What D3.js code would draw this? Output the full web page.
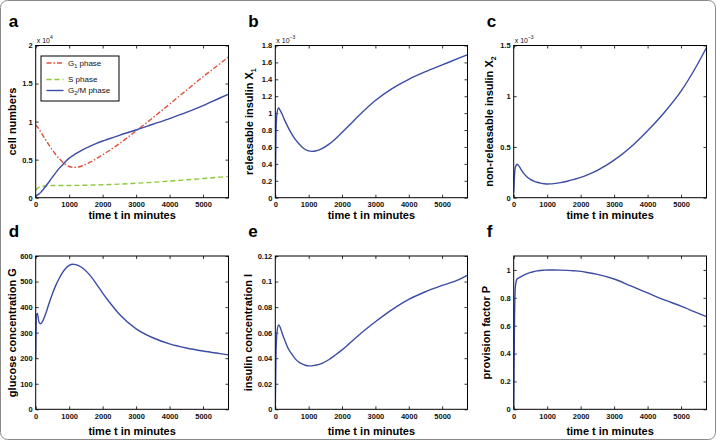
<!DOCTYPE html>
<html><head><meta charset="utf-8">
<script src="https://cdn.jsdelivr.net/npm/d3@7"></script>
<style>body{margin:0;background:#fff}svg{display:block}text{font-family:"Liberation Sans",Arial,sans-serif}</style>
</head><body>
<svg id="c" width="716" height="440"></svg>
<script>
const timePoints = [0,20,50,100,150,200,300,400,500,600,700,800,900,1000,1100,1200,1400,1600,1800,2000,2200,2500,3000,3500,4000,4500,5000,5500,5760];
const xTicks = [0,1000,2000,3000,4000,5000];
// panel a (x 10^4)
const g1Phase = [0.96,0.948,0.93,0.90,0.865,0.83,0.76,0.69,0.625,0.565,0.515,0.47,0.435,0.41,0.40,0.40,0.42,0.46,0.51,0.565,0.62,0.71,0.88,1.05,1.23,1.41,1.59,1.76,1.85];
const sPhase = [0.10,0.11,0.125,0.135,0.145,0.15,0.155,0.158,0.16,0.16,0.16,0.16,0.16,0.16,0.161,0.162,0.163,0.165,0.167,0.17,0.173,0.178,0.19,0.203,0.218,0.235,0.252,0.27,0.28];
const g2mPhase = [0.02,0.025,0.035,0.05,0.07,0.095,0.15,0.21,0.27,0.33,0.385,0.43,0.48,0.52,0.55,0.58,0.63,0.67,0.71,0.745,0.775,0.82,0.89,0.965,1.04,1.12,1.21,1.31,1.36];
const ticksA = [0,0.5,1,1.5,2];
// panel b (x 10^-3)
const releasableX1 = [0,0.75,1.0,1.06,1.03,0.99,0.90,0.82,0.75,0.69,0.64,0.60,0.57,0.553,0.548,0.552,0.58,0.63,0.695,0.77,0.85,0.97,1.15,1.29,1.40,1.49,1.57,1.65,1.69];
const ticksB = [0,0.2,0.4,0.6,0.8,1,1.2,1.4,1.6,1.8];
// panel c (x 10^-3)
const nonReleasableX2 = [0.05,0.20,0.30,0.33,0.315,0.29,0.24,0.205,0.18,0.163,0.152,0.143,0.138,0.135,0.136,0.139,0.148,0.162,0.18,0.20,0.225,0.27,0.37,0.50,0.66,0.84,1.05,1.32,1.48];
const ticksC = [0,0.5,1,1.5];
// panel d
const glucoseG = [200,370,375,340,335,343,375,415,452,485,512,535,552,563,568,566,553,528,493,455,420,372,315,280,256,240,228,218,213];
const ticksD = [0,100,200,300,400,500,600];
// panel e
const insulinI = [0,0.042,0.06,0.066,0.064,0.06,0.053,0.047,0.043,0.0395,0.037,0.0355,0.0345,0.034,0.034,0.0345,0.036,0.0388,0.0425,0.0465,0.051,0.058,0.0685,0.078,0.086,0.092,0.097,0.1015,0.105];
const ticksE = [0,0.02,0.04,0.06,0.08,0.1,0.12];
// panel f
const provisionP = [0,0.55,0.88,0.935,0.943,0.95,0.963,0.973,0.982,0.988,0.993,0.996,0.998,1.0,1.0,1.0,0.999,0.997,0.994,0.99,0.982,0.968,0.935,0.885,0.835,0.785,0.74,0.69,0.665];
const ticksF = [0,0.2,0.4,0.6,0.8,1];

const BLUE = "#3c4ca4", RED = "#e0503c", GREEN = "#8cc83c";
const svg = d3.select("#c");
svg.append("rect").attr("x",0.5).attr("y",0.5).attr("width",715).attr("height",439).attr("rx",7)
  .attr("fill","#fff").attr("stroke","#8a8a8a").attr("stroke-width",1);

const cols = [[35.7,228.5],[275.3,467.5],[513.7,706.5]];
const rows = [[45.5,197.7],[256,409.3]];

function panel(o){
  const [x0,x1] = cols[o.col], [y0,y1] = rows[o.row];
  const x = d3.scaleLinear().domain([0,5760]).range([x0,x1]);
  const y = d3.scaleLinear().domain(o.ydom).range([y1,y0]);
  const g = svg.append("g");
  const fmt = d => String(+d.toFixed(4));
  g.append("g").attr("transform",`translate(0,${y1})`)
    .call(d3.axisBottom(x).tickValues(xTicks).tickSize(-3).tickPadding(4).tickFormat(fmt));
  g.append("g").attr("transform",`translate(0,${y0})`).call(d3.axisTop(x).tickValues(xTicks).tickSize(-3).tickFormat(""));
  g.append("g").attr("transform",`translate(${x0},0)`)
    .call(d3.axisLeft(y).tickValues(o.yticks).tickSize(-3).tickPadding(3).tickFormat(fmt));
  g.append("g").attr("transform",`translate(${x1},0)`).call(d3.axisRight(y).tickValues(o.yticks).tickSize(-3).tickFormat(""));
  g.selectAll(".domain").remove();
  g.selectAll(".tick line").attr("stroke","#000").attr("stroke-width",0.8);
  g.selectAll(".tick text").attr("font-size",7.5).attr("font-weight","bold").attr("fill","#111")
   .attr("font-family","'Liberation Sans',Arial,sans-serif");
  const clipId = "clip"+o.letter;
  svg.append("clipPath").attr("id",clipId).append("rect").attr("x",x0).attr("y",y0-1).attr("width",x1-x0).attr("height",y1-y0+1);
  o.series.forEach(s=>{
    const line = d3.line().x((d,i)=>x(timePoints[i])).y(d=>y(d)).curve(d3.curveMonotoneX);
    g.append("path").attr("d",line(s.values)).attr("fill","none").attr("stroke",s.color)
     .attr("stroke-width",1.4).attr("stroke-dasharray",s.dash||null).attr("clip-path",`url(#${clipId})`);
  });
  g.append("rect").attr("x",x0).attr("y",y0).attr("width",x1-x0).attr("height",y1-y0)
   .attr("fill","none").attr("stroke","#000").attr("stroke-width",1);
  svg.append("text").attr("x",x0-27).attr("y",y0-19).attr("font-size",17).attr("font-weight","bold").text(o.letter);
  svg.append("text").attr("x",(x0+x1)/2).attr("y",o.row===0?y1+21.5:y1+25.5).attr("text-anchor","middle")
    .attr("font-size",11).attr("font-weight","bold").text("time t in minutes");
  const yt = svg.append("text").attr("transform",`translate(${o.ytx},${(y0+y1)/2}) rotate(-90)`)
    .attr("text-anchor","middle").attr("font-size",11).attr("font-weight","bold");
  yt.append("tspan").text(o.ytitle);
  if(o.ysub){ yt.append("tspan").attr("font-size",7).attr("dy",3).text(o.ysub); }
  if(o.exp){
    const t = svg.append("text").attr("x",x0+1).attr("y",y0-3).attr("font-size",7).attr("fill","#111");
    t.append("tspan").text("x 10");
    t.append("tspan").attr("font-size",5).attr("dy",-3.5).text(o.exp);
  }
}

panel({letter:"a",col:0,row:0,ydom:[0,2],yticks:ticksA,ytitle:"cell numbers",ytx:15.5,exp:"4",
  series:[{values:g1Phase,color:RED,dash:"5,2,1.5,2"},{values:sPhase,color:GREEN,dash:"5,3"},{values:g2mPhase,color:BLUE}]});
panel({letter:"b",col:1,row:0,ydom:[0,1.8],yticks:ticksB,ytitle:"releasable insulin X",ysub:"1",ytx:253,exp:"−3",
  series:[{values:releasableX1,color:BLUE}]});
panel({letter:"c",col:2,row:0,ydom:[0,1.5],yticks:ticksC,ytitle:"non-releasable insulin X",ysub:"2",ytx:493,exp:"−3",
  series:[{values:nonReleasableX2,color:BLUE}]});
panel({letter:"d",col:0,row:1,ydom:[0,600],yticks:ticksD,ytitle:"glucose concentration G",ytx:16,
  series:[{values:glucoseG,color:BLUE}]});
panel({letter:"e",col:1,row:1,ydom:[0,0.12],yticks:ticksE,ytitle:"insulin concentration I",ytx:252,
  series:[{values:insulinI,color:BLUE}]});
panel({letter:"f",col:2,row:1,ydom:[0,1.1],yticks:ticksF,ytitle:"provision factor P",ytx:490,
  series:[{values:provisionP,color:BLUE}]});

// legend in panel a
const lg = svg.append("g");
lg.append("rect").attr("x",41).attr("y",56).attr("width",78).attr("height",45).attr("fill","#fff").attr("stroke","#000").attr("stroke-width",1);
const legendItems = [
  {label:["G","1"," phase"],color:RED,dash:"5,2,1.5,2",y:63},
  {label:["S phase","",""],color:GREEN,dash:"5,3",y:79.5},
  {label:["G","2","/M phase"],color:BLUE,dash:null,y:90.5}
];
legendItems.forEach(it=>{
  lg.append("line").attr("x1",46.5).attr("x2",63.5).attr("y1",it.y).attr("y2",it.y)
    .attr("stroke",it.color).attr("stroke-width",1.4).attr("stroke-dasharray",it.dash);
  const t = lg.append("text").attr("x",68).attr("y",it.y+2.5).attr("font-size",8).attr("fill","#111");
  t.append("tspan").text(it.label[0]);
  if(it.label[1]){ t.append("tspan").attr("font-size",5.5).attr("dy",2).text(it.label[1]);
    t.append("tspan").attr("dy",-2).text(it.label[2]); }
});
</script>
</body></html>
